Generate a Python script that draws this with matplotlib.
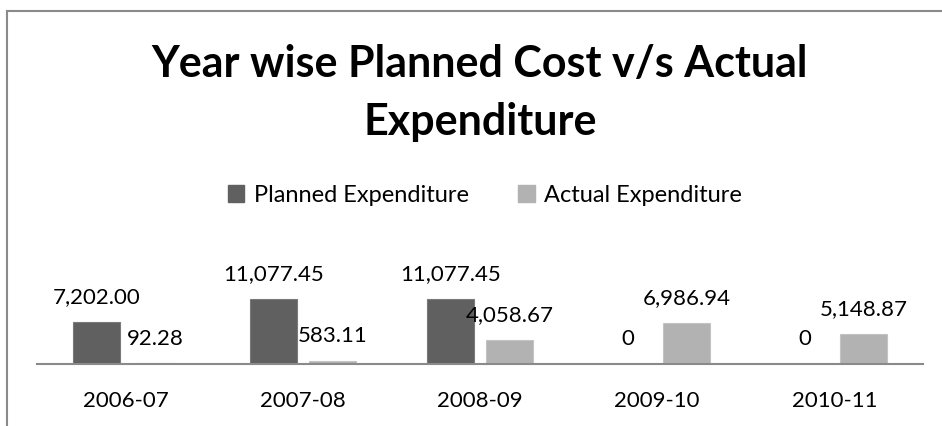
import matplotlib.pyplot as plt
from matplotlib.lines import Line2D
from matplotlib.patches import Patch
import numpy as np

years = ['2006-07', '2007-08', '2008-09', '2009-10', '2010-11']
planned = [7202.00, 11077.45, 11077.45, 0, 0]
actual = [92.28, 583.11, 4058.67, 6986.94, 5148.87]
series_names = ['Planned Expenditure', 'Actual Expenditure']

dark = '#606060'
light = '#b2b2b2'
font = 'Lato'

W, H = 942, 427
fig = plt.figure(figsize=(W / 100, H / 100), dpi=100)

# chart frame (right and bottom edges fall outside the picture)
fig.add_artist(Line2D([7 / W, 1], [1 - 12 / H, 1 - 12 / H], color='#8a8a8a', lw=1.5))
fig.add_artist(Line2D([7 / W, 7 / W], [0, 1 - 12 / H], color='#8a8a8a', lw=1.5))

ax = fig.add_axes([37 / W, (H - 365) / H, 886 / W, 70.5 / H])
x = np.arange(len(years))
w = 0.265
off = 0.166
b1 = ax.bar(x - off, planned, w, color=dark, edgecolor='#7a7a7a', lw=0.8)
b2 = ax.bar(x + off, actual, w, color=light, edgecolor='#c4c4c4', lw=0.8)

def fmt(v):
    return '0' if v == 0 else f'{v:,.2f}'

for bars, vals in ((b1, planned), (b2, actual)):
    for r, v in zip(bars, vals):
        ax.annotate(fmt(v), (r.get_x() + r.get_width() / 2, v), xytext=(0, 18.5),
                    textcoords='offset points', ha='center', va='center',
                    fontsize=16, family=font, color='black')

ax.set_xlim(-0.5, len(years) - 0.5)
ax.set_ylim(0, 12000)
ax.set_yticks([])
ax.set_xticks(x)
ax.set_xticklabels(years, fontsize=16, family=font)
ax.tick_params(axis='x', length=0, pad=19)
for s in ['top', 'left', 'right']:
    ax.spines[s].set_visible(False)
ax.spines['bottom'].set_color('#8a8a8a')
ax.spines['bottom'].set_linewidth(1.5)
ax.patch.set_alpha(0)

fig.text(480 / W, 1 - 64 / H, 'Year wise Planned Cost v/s Actual', ha='center', va='center',
         fontsize=31, fontweight='bold', family=font)
fig.text(480 / W, 1 - 122 / H, 'Expenditure', ha='center', va='center',
         fontsize=31, fontweight='bold', family=font)

handles = [Patch(color=dark), Patch(color=light)]
fig.legend(handles, series_names, loc='center', bbox_to_anchor=(485 / W, 1 - 196 / H),
           ncol=2, frameon=False, prop={'family': font, 'size': 17},
           handlelength=0.7, handleheight=0.7, handletextpad=0.4, columnspacing=2.1)

fig.savefig('out.png', dpi=100)
